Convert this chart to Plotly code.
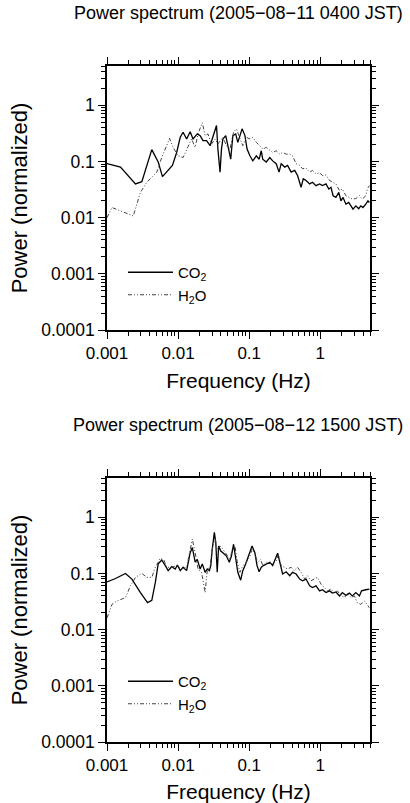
import numpy as np
import plotly.graph_objects as go

# ---------------- text ----------------
title_top = "Power spectrum (2005\u221208\u221211 0400 JST)"
title_bottom = "Power spectrum (2005\u221208\u221212 1500 JST)"
x_title = "Frequency (Hz)"
y_title = "Power (normalized)"
series_names = ["CO<sub>2</sub>", "H<sub>2</sub>O"]

x_tick_vals = [0.001, 0.01, 0.1, 1]
x_tick_text = ["0.001", "0.01", "0.1", "1"]
y_tick_vals = [0.0001, 0.001, 0.01, 0.1, 1]
y_tick_text = ["0.0001", "0.001", "0.01", "0.1", "1"]

# ---------------- data (in log10 units) ----------------
# Top panel, CO2
top_co2_log_f = [-3.00, -2.81, -2.60, -2.51, -2.37, -2.28, -2.22, -2.14, -2.08, -2.02,
                 -1.97, -1.93, -1.88, -1.83, -1.79, -1.73, -1.69, -1.65, -1.60, -1.55,
                 -1.51, -1.46, -1.44, -1.41, -1.39, -1.37, -1.33, -1.30, -1.26, -1.23,
                 -1.19, -1.16, -1.12, -1.10, -1.06, -1.03, -0.99, -0.95, -0.90, -0.86,
                 -0.83, -0.81, -0.76, -0.71, -0.67, -0.62, -0.58, -0.55, -0.50, -0.46,
                 -0.41, -0.36, -0.32, -0.27, -0.24, -0.20, -0.15, -0.11, -0.06, -0.01,
                 0.03, 0.08, 0.12, 0.15, 0.18, 0.22, 0.26, 0.29, 0.32, 0.36,
                 0.40, 0.43, 0.46, 0.50, 0.54, 0.57, 0.60, 0.64, 0.67, 0.69]
top_co2_log_p = [-1.04, -1.10, -1.40, -1.36, -0.79, -1.01, -1.27, -1.16, -1.07, -0.84,
                 -0.57, -0.48, -0.60, -0.47, -0.60, -0.51, -0.54, -0.63, -0.63, -0.72,
                 -0.57, -0.36, -0.78, -1.19, -0.78, -0.60, -0.54, -0.72, -0.96, -0.54,
                 -0.51, -0.66, -0.48, -0.42, -0.54, -0.78, -0.90, -0.99, -0.90, -0.96,
                 -0.81, -0.96, -1.01, -0.93, -0.99, -1.04, -1.19, -1.04, -1.10, -1.07,
                 -1.19, -1.16, -1.25, -1.46, -1.31, -1.34, -1.40, -1.37, -1.43, -1.40,
                 -1.43, -1.40, -1.49, -1.46, -1.61, -1.64, -1.55, -1.70, -1.64, -1.76,
                 -1.73, -1.79, -1.85, -1.79, -1.84, -1.79, -1.82, -1.76, -1.70, -1.73]

# Top panel, H2O
top_h2o_log_f = [-3.00, -2.93, -2.63, -2.53, -2.44, -2.30, -2.23, -2.12, -2.07, -2.00,
                 -1.93, -1.86, -1.81, -1.76, -1.72, -1.66, -1.62, -1.58, -1.53, -1.48,
                 -1.44, -1.37, -1.32, -1.27, -1.22, -1.18, -1.13, -1.09, -1.04, -0.99,
                 -0.95, -0.90, -0.85, -0.81, -0.76, -0.71, -0.67, -0.62, -0.57, -0.53,
                 -0.48, -0.43, -0.39, -0.34, -0.29, -0.25, -0.20, -0.15, -0.11, -0.06,
                 -0.01, 0.03, 0.08, 0.13, 0.17, 0.22, 0.27, 0.31, 0.36, 0.41,
                 0.45, 0.50, 0.55, 0.59, 0.64, 0.66, 0.69]
top_h2o_log_p = [-2.00, -1.82, -1.97, -1.55, -1.37, -1.19, -0.93, -0.59, -0.75, -0.90,
                 -0.93, -0.72, -0.60, -0.75, -0.51, -0.31, -0.54, -0.51, -0.69, -0.60,
                 -0.69, -0.57, -0.72, -0.78, -0.48, -0.42, -0.60, -0.72, -0.57, -0.60,
                 -0.57, -0.66, -0.72, -0.78, -0.75, -0.81, -0.84, -0.81, -0.87, -0.84,
                 -0.87, -0.87, -0.90, -1.04, -1.07, -1.13, -1.12, -1.19, -1.16, -1.22,
                 -1.20, -1.25, -1.24, -1.34, -1.37, -1.40, -1.52, -1.49, -1.61, -1.64,
                 -1.67, -1.66, -1.61, -1.67, -1.61, -1.49, -1.43]

# Bottom panel, CO2
bot_co2_log_f = [-3.00, -2.88, -2.74, -2.65, -2.53, -2.43, -2.37, -2.32, -2.28, -2.23,
                 -2.18, -2.14, -2.09, -2.04, -2.01, -1.97, -1.93, -1.88, -1.83, -1.80,
                 -1.76, -1.73, -1.69, -1.66, -1.62, -1.59, -1.56, -1.54, -1.52, -1.49,
                 -1.47, -1.45, -1.43, -1.40, -1.37, -1.32, -1.28, -1.25, -1.22, -1.19,
                 -1.16, -1.12, -1.09, -1.05, -1.01, -0.96, -0.92, -0.89, -0.86, -0.83,
                 -0.80, -0.76, -0.71, -0.67, -0.63, -0.60, -0.57, -0.53, -0.48, -0.43,
                 -0.39, -0.34, -0.29, -0.25, -0.20, -0.15, -0.11, -0.06, -0.01, 0.03,
                 0.08, 0.13, 0.17, 0.22, 0.27, 0.31, 0.36, 0.41, 0.45, 0.50,
                 0.55, 0.58, 0.64, 0.69]
bot_co2_log_p = [-1.15, -1.09, -1.00, -1.10, -1.34, -1.52, -1.48, -1.16, -0.83, -0.76,
                 -0.86, -0.95, -0.88, -0.92, -0.85, -0.95, -0.89, -0.95, -0.63, -0.54,
                 -0.80, -0.75, -0.92, -0.83, -0.98, -0.92, -0.95, -0.86, -0.57, -0.27,
                 -0.45, -0.98, -0.51, -0.60, -0.63, -0.69, -0.80, -0.69, -0.48, -0.75,
                 -0.98, -1.12, -0.95, -0.83, -0.69, -0.51, -0.63, -0.86, -0.97, -0.89,
                 -0.86, -0.83, -0.80, -0.86, -0.75, -0.64, -0.80, -1.01, -0.97, -1.04,
                 -0.98, -1.01, -1.10, -1.13, -1.10, -1.22, -1.25, -1.22, -1.31, -1.29,
                 -1.34, -1.31, -1.35, -1.33, -1.40, -1.34, -1.39, -1.35, -1.40, -1.34,
                 -1.40, -1.31, -1.29, -1.28]

# Bottom panel, H2O
bot_h2o_log_f = [-3.00, -2.93, -2.86, -2.74, -2.67, -2.60, -2.51, -2.44, -2.37, -2.32,
                 -2.25, -2.20, -2.16, -2.09, -2.02, -1.95, -1.88, -1.83, -1.80, -1.76,
                 -1.72, -1.67, -1.62, -1.59, -1.55, -1.52, -1.48, -1.45, -1.41, -1.37,
                 -1.32, -1.27, -1.24, -1.20, -1.17, -1.13, -1.09, -1.04, -0.99, -0.96,
                 -0.92, -0.88, -0.84, -0.81, -0.76, -0.71, -0.67, -0.62, -0.59, -0.55,
                 -0.50, -0.46, -0.41, -0.37, -0.32, -0.27, -0.22, -0.18, -0.13, -0.08,
                 -0.04, 0.01, 0.06, 0.10, 0.15, 0.20, 0.24, 0.29, 0.34, 0.38,
                 0.43, 0.48, 0.52, 0.57, 0.62, 0.66, 0.69]
bot_h2o_log_p = [-1.79, -1.55, -1.49, -1.43, -1.22, -1.07, -1.00, -1.07, -1.07, -0.89,
                 -0.73, -0.76, -0.89, -0.89, -0.86, -0.92, -0.89, -0.57, -0.39, -0.63,
                 -0.92, -0.98, -1.34, -0.95, -0.86, -0.57, -0.39, -0.57, -0.51, -0.57,
                 -0.66, -0.75, -0.57, -0.51, -0.78, -0.98, -0.86, -0.80, -0.69, -0.57,
                 -0.66, -0.80, -0.75, -0.86, -0.80, -0.82, -0.83, -0.78, -0.66, -0.86,
                 -0.89, -0.92, -0.89, -0.95, -0.89, -0.98, -1.10, -1.04, -1.13, -1.10,
                 -1.07, -1.19, -1.25, -1.31, -1.28, -1.35, -1.31, -1.39, -1.43, -1.35,
                 -1.43, -1.40, -1.52, -1.55, -1.49, -1.55, -1.61]


def lin(v):
    return (10.0 ** np.array(v)).tolist()


FONT = "Liberation Sans, Arial, Helvetica, sans-serif"
W, H = 410, 803
x_dom = [107 / W, 370 / W]
top_dom = [1 - 330 / H, 1 - 66 / H]
bot_dom = [1 - 742 / H, 1 - 478 / H]

minor_x = [m * 10.0 ** e for e in range(-3, 1) for m in range(2, 10)] + [2, 3, 4, 5]
minor_y = [m * 10.0 ** e for e in range(-4, 1) for m in range(2, 10)]

co2_line = dict(color="black", width=1.3)
h2o_line = dict(color="#444444", width=1.0, dash="4px,2px,1px,2px,1px,2px")

fig = go.Figure()
fig.add_trace(go.Scatter(x=lin(top_co2_log_f), y=lin(top_co2_log_p), mode="lines",
                         name=series_names[0], line=co2_line, xaxis="x", yaxis="y",
                         legend="legend"))
fig.add_trace(go.Scatter(x=lin(top_h2o_log_f), y=lin(top_h2o_log_p), mode="lines",
                         name=series_names[1], line=h2o_line, xaxis="x", yaxis="y",
                         legend="legend"))
fig.add_trace(go.Scatter(x=lin(bot_co2_log_f), y=lin(bot_co2_log_p), mode="lines",
                         name=series_names[0], line=co2_line, xaxis="x2", yaxis="y2",
                         legend="legend2"))
fig.add_trace(go.Scatter(x=lin(bot_h2o_log_f), y=lin(bot_h2o_log_p), mode="lines",
                         name=series_names[1], line=h2o_line, xaxis="x2", yaxis="y2",
                         legend="legend2"))


def xcfg(anchor):
    return dict(type="log", range=[-3, np.log10(5)], domain=x_dom, anchor=anchor,
                automargin=False,
                tickmode="array", tickvals=x_tick_vals, ticktext=x_tick_text,
                ticks="outside", ticklen=7, tickwidth=1.2, tickcolor="black",
                minor=dict(tickmode="array", tickvals=minor_x, ticks="outside",
                           ticklen=4, tickwidth=1, tickcolor="black", showgrid=False),
                showline=True, linecolor="black", linewidth=1.5, mirror="ticks",
                showgrid=False, zeroline=False,
                tickfont=dict(size=17, color="black", family=FONT),
                title=dict(text=x_title, font=dict(size=21, color="black", family=FONT),
                           standoff=11))


def ycfg(anchor, dom):
    return dict(type="log", range=[-4, np.log10(5)], domain=dom, anchor=anchor,
                automargin=False,
                tickmode="array", tickvals=y_tick_vals, ticktext=y_tick_text,
                ticks="outside", ticklen=7, tickwidth=1.2, tickcolor="black",
                minor=dict(tickmode="array", tickvals=minor_y, ticks="outside",
                           ticklen=4, tickwidth=1, tickcolor="black", showgrid=False),
                showline=True, linecolor="black", linewidth=1.5, mirror="ticks",
                showgrid=False, zeroline=False,
                tickfont=dict(size=17.5, color="black", family=FONT),
                title=dict(text=y_title, font=dict(size=22, color="black", family=FONT),
                           standoff=8))


leg_common = dict(xref="paper", yref="paper", xanchor="left", yanchor="top",
                  bgcolor="rgba(0,0,0,0)", font=dict(size=15, color="black", family=FONT),
                  itemwidth=45, tracegroupgap=0)

fig.update_layout(
    width=W, height=H,
    margin=dict(l=0, r=0, t=0, b=0, autoexpand=False),
    paper_bgcolor="white", plot_bgcolor="white",
    font=dict(family=FONT, color="black"),
    xaxis=xcfg("y"), yaxis=ycfg("x", top_dom),
    xaxis2=xcfg("y2"), yaxis2=ycfg("x2", bot_dom),
    legend=dict(x=123 / W, y=1 - 256 / H, **leg_common),
    legend2=dict(x=123 / W, y=1 - 665 / H, **leg_common),
    annotations=[
        dict(text=title_top, x=238.5 / W, y=1 - 13 / H, xref="paper", yref="paper",
             xanchor="center", yanchor="middle", showarrow=False,
             font=dict(size=18, color="black", family=FONT)),
        dict(text=title_bottom, x=238.5 / W, y=1 - 425 / H, xref="paper", yref="paper",
             xanchor="center", yanchor="middle", showarrow=False,
             font=dict(size=18, color="black", family=FONT)),
    ],
)

fig.write_html("out.html", config={"displayModeBar": False},
               post_script="document.body.style.margin='0';")
